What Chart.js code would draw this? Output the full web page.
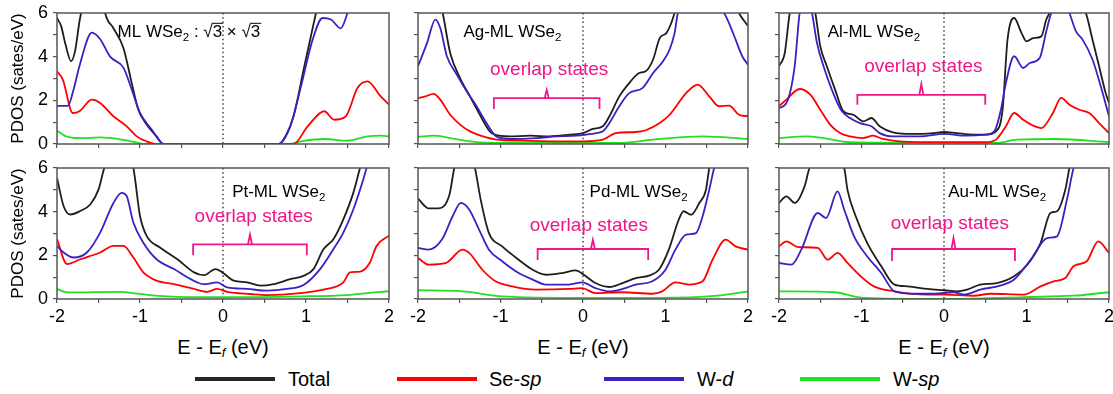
<!DOCTYPE html>
<html>
<head>
<meta charset="utf-8">
<script src="https://cdn.jsdelivr.net/npm/chart.js@4.4.1/dist/chart.umd.min.js"></script>
<style>
  body { margin: 0; width: 1113px; height: 394px; overflow: hidden; background: #fff; position: relative;
         font-family: "Liberation Sans", Arial, sans-serif; color: #000; }
  canvas { position: absolute; }
  .xt { position: absolute; top: 335px; width: 240px; text-align: center; font-size: 20px; line-height: 24px; }
  .xt sub { font-size: 13px; vertical-align: -3px; font-style: italic; }
  .ln { position: absolute; top: 377px; width: 80px; height: 4px; }
  .lt { position: absolute; top: 367px; font-size: 20px; line-height: 24px; }
</style>
</head>
<body>
<div class="xt" style="left:103px">E - E<sub>f</sub> (eV)</div>
<div class="xt" style="left:463px">E - E<sub>f</sub> (eV)</div>
<div class="xt" style="left:824px">E - E<sub>f</sub> (eV)</div>

<div class="ln" style="left:195px;background:#262626"></div><div class="lt" style="left:288px">Total</div>
<div class="ln" style="left:397px;background:#ff0000"></div><div class="lt" style="left:489px">Se-<i>sp</i></div>
<div class="ln" style="left:604px;background:#3c20c4"></div><div class="lt" style="left:697px">W-<i>d</i></div>
<div class="ln" style="left:800px;background:#22e022"></div><div class="lt" style="left:893px">W-<i>sp</i></div>

<script>
// ---- data: [E - Ef (eV), PDOS (states/eV)] ----
// ML WSe2 (sqrt3 x sqrt3)
const mlTotal = [[-2,5.77],[-1.95,5.4],[-1.9,4.6],[-1.83,3.79],[-1.78,4.3],[-1.73,5.6],[-1.71,6],[-1.6,8.5],[-1.5,8],[-1.42,6],[-1.32,5.3],[-1.2,4.4],[-1.1,2.8],[-1.02,1.57],[-0.92,0.89],[-0.8,0.35],[-0.72,0],[0.67,0],[0.76,0.4],[0.85,1.27],[0.98,3.56],[1.12,6],[1.3,9],[1.6,10],[2,10]];
const mlWd = [[-2,1.75],[-1.87,1.75],[-1.8,2.5],[-1.73,3.56],[-1.58,5.1],[-1.48,4.8],[-1.36,4.0],[-1.2,3.5],[-1.1,2.5],[-1.0,1.42],[-0.86,0.66],[-0.74,0.05],[-0.7,0],[0.67,0],[0.81,0.8],[0.94,2.64],[1.08,4.78],[1.2,5.77],[1.3,5.7],[1.42,5.3],[1.5,6],[1.6,7.2],[1.8,8],[2,8]];
const mlSe = [[-2,3.33],[-1.93,2.95],[-1.81,1.42],[-1.73,1.5],[-1.58,2.03],[-1.48,1.88],[-1.32,1.27],[-1.16,0.81],[-1.04,0.35],[-0.92,0.12],[-0.8,0],[0.85,0],[1.02,0.81],[1.22,1.5],[1.34,1.11],[1.48,1.27],[1.62,2.56],[1.74,2.87],[1.9,2.18],[2,1.8]];
const mlWsp = [[-2,0.61],[-1.89,0.35],[-1.73,0.27],[-1.48,0.3],[-1.27,0.23],[-1.06,0.08],[-0.96,0],[0.8,0],[0.94,0.12],[1.22,0.23],[1.5,0.15],[1.74,0.35],[1.9,0.38],[2,0.35]];

// Ag-ML WSe2
const agTotal = [[-2,7.5],[-1.85,8.5],[-1.7,6],[-1.61,4.17],[-1.49,3.02],[-1.37,2.18],[-1.25,1.34],[-1.13,0.58],[-1.07,0.43],[-0.89,0.35],[-0.64,0.38],[-0.4,0.35],[-0.16,0.43],[0,0.5],[0.12,0.69],[0.24,0.81],[0.32,1.27],[0.44,2.18],[0.56,2.79],[0.68,3.25],[0.76,3.33],[0.85,3.87],[0.93,4.85],[1.01,5.08],[1.07,5.54],[1.11,6],[1.3,8.5],[1.6,8.5],[1.89,6],[2,5.4]];
const agWd = [[-2,3.56],[-1.89,4.63],[-1.79,5.7],[-1.73,5.31],[-1.65,4.02],[-1.53,3.18],[-1.41,2.41],[-1.29,1.73],[-1.17,0.96],[-1.05,0.35],[-0.89,0.23],[-0.56,0.27],[-0.32,0.35],[-0.08,0.38],[0.04,0.43],[0.16,0.5],[0.24,0.58],[0.32,0.96],[0.44,1.73],[0.56,2.33],[0.72,2.56],[0.85,3.25],[0.97,3.79],[1.05,4.33],[1.11,5.08],[1.15,6],[1.4,7.5],[1.71,6],[1.77,5.54],[1.85,4.78],[1.93,4.02],[2,3.63]];
const agSe = [[-2,2.1],[-1.91,2.18],[-1.81,2.3],[-1.73,2.03],[-1.61,1.34],[-1.49,0.89],[-1.37,0.58],[-1.21,0.35],[-1.05,0.2],[-0.76,0.15],[-0.36,0.12],[0,0.12],[0.24,0.2],[0.4,0.5],[0.64,0.55],[0.76,0.63],[0.93,0.96],[1.05,1.34],[1.25,2.33],[1.39,2.72],[1.53,2.18],[1.65,1.73],[1.77,1.76],[1.89,1.34],[2,1.27]];
const agWsp = [[-2,0.32],[-1.81,0.38],[-1.61,0.27],[-1.37,0.12],[-0.97,0.05],[0,0.05],[0.45,0.05],[0.85,0.2],[1.45,0.35],[2,0.23]];

// Al-ML WSe2
const alTotal = [[-2,3.56],[-1.93,4.17],[-1.87,6],[-1.72,8],[-1.56,6],[-1.5,4.48],[-1.42,3.56],[-1.32,2.49],[-1.22,1.5],[-1.1,1.34],[-0.98,1.04],[-0.88,1.19],[-0.78,0.81],[-0.62,0.53],[-0.38,0.46],[-0.13,0.5],[0,0.55],[0.15,0.5],[0.35,0.43],[0.51,0.43],[0.63,0.58],[0.71,1.57],[0.77,4.78],[0.85,5.77],[0.94,5.08],[1.0,4.7],[1.08,4.85],[1.18,4.93],[1.24,5.7],[1.28,6],[1.5,7.5],[1.72,6],[1.8,4.78],[1.88,3.56],[1.96,2.33],[2,1.88]];
const alWd = [[-2,1.65],[-1.91,1.88],[-1.81,3.56],[-1.75,6],[-1.68,7],[-1.6,6],[-1.54,4.63],[-1.46,3.56],[-1.36,2.49],[-1.25,1.57],[-1.14,1.19],[-1.02,0.96],[-0.88,0.81],[-0.78,0.5],[-0.62,0.35],[-0.29,0.35],[0,0.46],[0.27,0.38],[0.51,0.43],[0.61,0.58],[0.69,1.57],[0.75,2.79],[0.85,4.02],[0.96,3.48],[1.04,3.71],[1.16,3.94],[1.24,5.16],[1.3,6],[1.42,6.8],[1.52,6],[1.6,5.16],[1.68,4.78],[1.8,3.87],[1.9,2.64],[2,1.27]];
const alSe = [[-2,1.73],[-1.91,2.03],[-1.75,2.52],[-1.62,2.26],[-1.5,1.57],[-1.38,0.89],[-1.26,0.5],[-1.14,0.35],[-0.98,0.27],[-0.86,0.38],[-0.74,0.23],[-0.54,0.12],[0,0.08],[0.51,0.08],[0.63,0.2],[0.75,0.81],[0.85,1.42],[0.96,1.11],[1.08,0.84],[1.18,0.73],[1.32,1.42],[1.42,2.11],[1.52,1.8],[1.64,1.57],[1.76,1.42],[1.88,0.96],[2,0.5]];
const alWsp = [[-2,0.27],[-1.67,0.35],[-1.46,0.27],[-1.14,0.08],[0,0.05],[0.63,0.05],[0.88,0.2],[1.36,0.23],[2,0.08]];

// Pt-ML WSe2
const ptTotal = [[-2,5.54],[-1.92,4.25],[-1.84,3.87],[-1.72,4.03],[-1.6,4.33],[-1.5,5.01],[-1.43,6],[-1.25,7.5],[-1.08,6],[-1.0,3.8],[-0.92,2.89],[-0.76,2.36],[-0.55,1.82],[-0.35,1.22],[-0.23,1.09],[-0.09,1.37],[-0.01,1.22],[0.13,0.84],[0.29,0.76],[0.45,0.61],[0.61,0.68],[0.81,0.91],[0.97,1.06],[1.09,1.37],[1.21,2.28],[1.33,2.74],[1.45,3.65],[1.57,4.86],[1.65,6],[1.85,9],[2,10]];
const ptWd = [[-2,2.43],[-1.92,2.13],[-1.8,1.9],[-1.64,2.13],[-1.48,3.04],[-1.32,4.4],[-1.22,4.86],[-1.16,4.71],[-1.08,3.5],[-0.96,2.58],[-0.8,1.82],[-0.59,1.37],[-0.39,0.91],[-0.23,0.68],[-0.07,0.76],[0.05,0.53],[0.29,0.46],[0.53,0.38],[0.77,0.46],[0.97,0.64],[1.17,1.37],[1.33,2.28],[1.45,3.04],[1.57,4.1],[1.69,5.47],[1.73,6],[1.9,8],[2,9]];
const ptSe = [[-2,2.74],[-1.88,1.6],[-1.72,1.82],[-1.48,2.13],[-1.32,2.43],[-1.2,2.43],[-1.08,1.9],[-0.96,1.22],[-0.8,0.84],[-0.59,0.68],[-0.35,0.46],[-0.19,0.33],[-0.07,0.46],[0.05,0.33],[0.33,0.23],[0.53,0.18],[0.93,0.27],[1.25,0.46],[1.45,0.76],[1.53,1.22],[1.65,1.25],[1.77,1.67],[1.85,2.43],[2,2.9]];
const ptWsp = [[-2,0.46],[-1.88,0.3],[-1.24,0.33],[-1.0,0.23],[-0.67,0.12],[0,0.08],[0.93,0.12],[1.49,0.18],[1.9,0.33],[2,0.35]];

// Pd-ML WSe2
const pdTotal = [[-2,4.6],[-1.87,4.15],[-1.75,4.15],[-1.62,4.76],[-1.56,6],[-1.44,7.5],[-1.31,6],[-1.24,4.55],[-1.14,3.02],[-0.98,2.41],[-0.78,1.8],[-0.61,1.34],[-0.45,1.11],[-0.25,1.19],[-0.09,1.31],[0.01,1.11],[0.15,0.73],[0.32,0.55],[0.48,0.73],[0.64,0.96],[0.8,1.07],[0.92,1.34],[1.04,2.26],[1.16,3.63],[1.22,4.02],[1.31,3.86],[1.41,4.4],[1.49,5.0],[1.53,6],[1.7,9],[2,10]];
const pdWd = [[-2,2.34],[-1.87,2.26],[-1.71,2.72],[-1.58,3.79],[-1.48,4.4],[-1.38,4.1],[-1.26,3.18],[-1.14,2.26],[-0.98,1.73],[-0.78,1.19],[-0.61,0.89],[-0.45,0.66],[-0.17,0.66],[-0.01,0.76],[0.15,0.5],[0.32,0.35],[0.48,0.46],[0.64,0.66],[0.84,0.81],[1.0,1.34],[1.12,2.26],[1.25,2.95],[1.37,3.02],[1.45,3.79],[1.53,5.0],[1.59,6],[1.8,8.5],[2,9]];
const pdSe = [[-2,1.88],[-1.87,1.57],[-1.66,1.65],[-1.46,2.26],[-1.38,2.11],[-1.22,1.34],[-1.06,0.81],[-0.86,0.58],[-0.57,0.43],[-0.17,0.46],[-0.01,0.5],[0.15,0.27],[0.48,0.31],[0.84,0.24],[0.96,0.35],[1.12,0.76],[1.28,0.66],[1.45,0.81],[1.57,1.8],[1.73,2.72],[1.85,2.41],[2,2.26]];
const pdWsp = [[-2,0.4],[-1.46,0.35],[-0.98,0.12],[0,0.05],[0.9,0.05],[1.63,0.15],[2,0.35]];

// Au-ML WSe2
const auTotal = [[-2,4.4],[-1.91,4.7],[-1.81,4.4],[-1.69,5.16],[-1.63,6],[-1.42,6.8],[-1.21,6],[-1.17,5.0],[-1.07,3.79],[-0.93,2.56],[-0.76,1.5],[-0.6,0.66],[-0.44,0.58],[-0.2,0.46],[0,0.4],[0.16,0.35],[0.28,0.43],[0.44,0.66],[0.64,0.73],[0.85,1.04],[1.01,1.57],[1.17,2.56],[1.29,3.94],[1.37,4.02],[1.47,5.0],[1.52,6],[1.7,9],[2,10]];
const auWd = [[-2,1.65],[-1.85,1.57],[-1.73,2.26],[-1.53,3.94],[-1.43,3.71],[-1.29,4.93],[-1.21,4.1],[-1.09,2.87],[-0.93,1.95],[-0.76,1.19],[-0.6,0.35],[-0.36,0.24],[-0.12,0.24],[0.12,0.31],[0.24,0.2],[0.44,0.43],[0.68,0.61],[0.85,0.89],[1.05,1.8],[1.25,2.79],[1.37,2.87],[1.49,4.55],[1.57,6],[1.8,8.5],[2,9]];
const auSe = [[-2,2.41],[-1.91,2.64],[-1.77,2.38],[-1.53,2.34],[-1.41,1.8],[-1.29,2.11],[-1.17,1.65],[-1.01,1.04],[-0.85,0.58],[-0.6,0.35],[-0.2,0.2],[0,0.2],[0.36,0.15],[0.56,0.24],[0.97,0.2],[1.17,0.58],[1.33,0.81],[1.47,0.96],[1.57,1.5],[1.73,1.73],[1.87,2.64],[2,2.11]];
const auWsp = [[-2,0.35],[-1.33,0.31],[-0.97,0.05],[0,0],[0.97,0.09],[1.57,0.15],[2,0.31]];

const xTicks = [-2, -1, 0, 1, 2];
const yTicks = [0, 2, 4, 6];

Chart.defaults.font.family = '"Liberation Sans", Arial, sans-serif';
Chart.defaults.color = '#000';

const FONT = '"Liberation Sans", Arial, sans-serif';
const PINK = '#f0168a';

// draws "text" pieces, some of them as subscripts or with an overbar
function drawRich(ctx, parts, x, y, size) {
  let cx = x;
  ctx.textBaseline = 'middle';
  ctx.textAlign = 'left';
  for (const p of parts) {
    const fs = p.sub ? size * 0.68 : size;
    ctx.font = fs + 'px ' + FONT;
    ctx.fillText(p.t, cx, p.sub ? y + size * 0.32 : y);
    const w = ctx.measureText(p.t).width;
    if (p.over) {
      ctx.beginPath();
      ctx.lineWidth = 1;
      ctx.moveTo(cx - 1, y - size * 0.55);
      ctx.lineTo(cx + w + 1, y - size * 0.55);
      ctx.stroke();
    }
    cx += w;
  }
}

const decorPlugin = {
  id: 'decor',
  beforeDatasetsDraw(chart) {
    const { ctx, chartArea: a, scales: { x } } = chart;
    ctx.save();
    ctx.strokeStyle = '#444';
    ctx.lineWidth = 1.5;
    ctx.setLineDash([1.5, 2.8]);
    ctx.beginPath();
    ctx.moveTo(x.getPixelForValue(0), a.top);
    ctx.lineTo(x.getPixelForValue(0), a.bottom);
    ctx.stroke();
    ctx.restore();
  },
  afterDatasetsDraw(chart, args, opts) {
    const { ctx, chartArea: a, scales: { x, y } } = chart;
    ctx.save();
    ctx.strokeStyle = '#555';
    ctx.lineWidth = 1.5;
    ctx.strokeRect(a.left, a.top, a.right - a.left, a.bottom - a.top);

    ctx.fillStyle = '#000';
    ctx.strokeStyle = '#000';
    drawRich(ctx, opts.label, x.getPixelForValue(opts.labelAt[0]), y.getPixelForValue(opts.labelAt[1]), 17);

    const b = opts.bracket;
    if (b) {
      const x1 = x.getPixelForValue(b.from), x2 = x.getPixelForValue(b.to);
      const xm = (x1 + x2) / 2;
      const yb = y.getPixelForValue(b.at), yl = y.getPixelForValue(b.at - b.leg), yn = y.getPixelForValue(b.at + b.nub);
      ctx.strokeStyle = PINK;
      ctx.lineWidth = 1.8;
      ctx.beginPath();
      ctx.moveTo(x1, yl); ctx.lineTo(x1, yb); ctx.lineTo(x2, yb); ctx.lineTo(x2, yl);
      ctx.moveTo(xm - 2, yb); ctx.lineTo(xm, yn); ctx.lineTo(xm + 2, yb);
      ctx.stroke();
      ctx.fillStyle = PINK;
      ctx.font = '19px ' + FONT;
      ctx.textAlign = 'center';
      ctx.textBaseline = 'middle';
      ctx.fillText('overlap states', x.getPixelForValue(b.textAt[0]), y.getPixelForValue(b.textAt[1]));
    }
    ctx.restore();
  }
};

const wse = [{ t: 'WSe' }, { t: '2', sub: true }];
const panels = [
  { sets: [mlWd, mlTotal, mlSe, mlWsp], label: [{ t: 'ML ' }, ...wse, { t: ' : √' }, { t: '3', over: true }, { t: ' × √' }, { t: '3', over: true }], labelAt: [-1.27, 5.1],
    bracket: null },
  { sets: [agWd, agTotal, agSe, agWsp], label: [{ t: 'Ag-ML ' }, ...wse], labelAt: [-1.45, 5.1],
    bracket: { from: -1.08, to: 0.2, at: 2.1, leg: 0.5, nub: 0.38, textAt: [-0.41, 3.4] } },
  { sets: [alWd, alTotal, alSe, alWsp], label: [{ t: 'Al-ML ' }, ...wse], labelAt: [-1.41, 5.1],
    bracket: { from: -1.05, to: 0.5, at: 2.25, leg: 0.45, nub: 0.5, textAt: [-0.25, 3.55] } },
  { sets: [ptWd, ptTotal, ptSe, ptWsp], label: [{ t: 'Pt-ML ' }, ...wse], labelAt: [0.11, 4.9],
    bracket: { from: -0.36, to: 1.01, at: 2.5, leg: 0.5, nub: 0.45, textAt: [0.37, 3.75] } },
  { sets: [pdWd, pdTotal, pdSe, pdWsp], label: [{ t: 'Pd-ML ' }, ...wse], labelAt: [0.08, 4.9],
    bracket: { from: -0.55, to: 0.79, at: 2.29, leg: 0.5, nub: 0.42, textAt: [0.07, 3.35] } },
  { sets: [auWd, auTotal, auSe, auWsp], label: [{ t: 'Au-ML ' }, ...wse], labelAt: [0.05, 4.9],
    bracket: { from: -0.63, to: 0.86, at: 2.29, leg: 0.55, nub: 0.5, textAt: [0.07, 3.44] } }
];
const lineColors = ['#3c20c4', '#1e1e1e', '#ff0000', '#22e022'];

const colLeft = [57, 418, 779], plotW = [332, 330, 330];
const rowTop = [13, 168], plotH = 131, padTop = 12, padRight = 8;

panels.forEach((p, i) => {
  const col = i % 3, row = Math.floor(i / 3);
  const yW = col === 0 ? 57 : 12;
  const xH = row === 0 ? 6 : 30;
  const cv = document.createElement('canvas');
  cv.width = yW + plotW[col] + padRight;
  cv.height = padTop + plotH + xH;
  cv.style.left = (colLeft[col] - yW) + 'px';
  cv.style.top = (rowTop[row] - padTop) + 'px';
  document.body.appendChild(cv);

  new Chart(cv, {
    type: 'line',
    data: {
      datasets: p.sets.map((d, k) => ({
        data: d,
        borderColor: lineColors[k],
        borderWidth: 1.8,
        pointRadius: 0,
        cubicInterpolationMode: 'monotone',
        fill: false
      }))
    },
    options: {
      responsive: false,
      devicePixelRatio: 1,
      animation: false,
      events: [],
      layout: { padding: { top: padTop, right: padRight, left: 0, bottom: 0 } },
      scales: {
        x: {
          type: 'linear', min: -2, max: 2,
          afterFit: s => { s.height = xH; s.paddingLeft = 0; s.paddingRight = 0; },
          grid: { drawOnChartArea: false, tickLength: 4, color: '#555', lineWidth: 1.2 },
          border: { display: false },
          ticks: {
            stepSize: 0.5, autoSkip: false, maxRotation: 0, padding: 3,
            font: { size: 18 },
            callback: v => (row === 1 && xTicks.includes(v)) ? String(v) : ''
          }
        },
        y: {
          min: 0, max: 6,
          afterFit: s => { s.width = yW; s.paddingTop = 0; s.paddingBottom = 0; },
          grid: { drawOnChartArea: false, tickLength: 4, color: '#555', lineWidth: 1.2 },
          border: { display: false },
          title: { display: col === 0, text: 'PDOS (sates/eV)', font: { size: 17 }, padding: { top: 8, bottom: 0 } },
          ticks: {
            stepSize: 1, autoSkip: false, padding: 5,
            font: { size: 18 },
            callback: v => (col === 0 && yTicks.includes(v)) ? String(v) : ''
          }
        }
      },
      plugins: {
        legend: { display: false },
        tooltip: { enabled: false },
        decor: { label: p.label, labelAt: p.labelAt, bracket: p.bracket }
      }
    },
    plugins: [decorPlugin]
  });
});
</script>
</body>
</html>
